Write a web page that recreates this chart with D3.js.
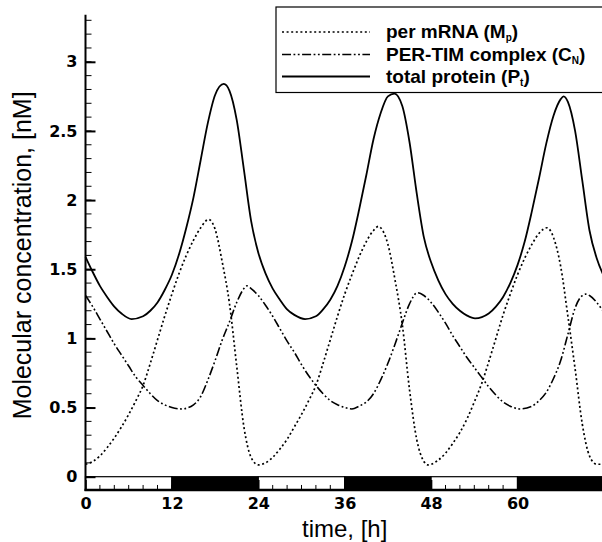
<!DOCTYPE html>
<html><head><meta charset="utf-8">
<script src="https://cdn.jsdelivr.net/npm/d3@7"></script>
<style>
html,body{margin:0;padding:0;background:#fff;}
svg{display:block;}
</style>
</head><body>
<svg id="chart" width="602" height="542"></svg>
<script>
// ---- data ----
const mpT = [0,1,2,3,4,5,6,7,8,9,10,11,12,13,14,15,16,17.1,18,19,20,21,22,23,24,25,26,27,28,29,30,31,32,33,34,35,36,37,38,39,40,40.7,41,42,43,44,45,46,47,47.5,48,49,50,51,52,53,54,55,56,57,58,59,60,61,62,63,64.1,65,66,67,68,69,70,71,72];
const mpV = [0.09,0.11,0.15,0.21,0.28,0.36,0.45,0.55,0.66,0.82,0.99,1.16,1.32,1.47,1.60,1.71,1.80,1.86,1.79,1.55,1.25,0.80,0.36,0.14,0.085,0.10,0.14,0.20,0.27,0.36,0.45,0.55,0.66,0.82,0.99,1.16,1.32,1.46,1.59,1.70,1.78,1.81,1.80,1.68,1.42,1.10,0.63,0.27,0.11,0.085,0.09,0.12,0.17,0.24,0.32,0.42,0.54,0.67,0.83,1.00,1.17,1.32,1.46,1.58,1.68,1.76,1.80,1.73,1.52,1.16,0.78,0.38,0.15,0.09,0.09];

const cnT = [0,1,2,3,4,5,6,7,8,9,10,11,12,13.4,15,16,17,18,19,20,21,22,22.4,23,24,25,26,27,28,29,30,31,32,33,34,35,36,37,38,39,40,41,42,43,44,45,46.1,47,48,49,50,51,52,53,54,55,56,57,58,59,60.3,62,63,64,65,66,67,68,69,69.5,70,71,72];
const cnV = [1.31,1.23,1.14,1.05,0.96,0.88,0.80,0.72,0.66,0.60,0.55,0.52,0.50,0.49,0.52,0.58,0.70,0.84,0.99,1.12,1.26,1.36,1.38,1.36,1.31,1.24,1.16,1.07,0.98,0.90,0.81,0.73,0.66,0.60,0.55,0.52,0.50,0.49,0.51,0.54,0.60,0.70,0.82,0.96,1.11,1.25,1.33,1.31,1.26,1.19,1.11,1.02,0.94,0.86,0.79,0.72,0.65,0.59,0.54,0.51,0.49,0.51,0.55,0.61,0.71,0.84,1.03,1.22,1.31,1.32,1.31,1.26,1.19];

const ptT = [0,1,2,3,4,5,6.4,8,9,10,11,12,13,14,15,16,17,18,19.2,20,21,22,23,24,25,26,27,28,29,30.5,32,33,34,35,36,37,38,39,40,41,42,42.9,44,45,46,47,48,49,50,51,52,53,54.1,56,57,58,59,60,61,62,63,64,65,66,66.4,67,68,69,70,71,72];
const ptV = [1.59,1.48,1.38,1.30,1.23,1.18,1.14,1.16,1.20,1.26,1.35,1.46,1.61,1.80,2.02,2.29,2.56,2.76,2.84,2.79,2.58,2.22,1.85,1.62,1.47,1.36,1.28,1.21,1.17,1.14,1.16,1.21,1.28,1.38,1.52,1.70,1.93,2.18,2.44,2.63,2.75,2.77,2.68,2.42,2.05,1.73,1.55,1.42,1.32,1.25,1.20,1.165,1.145,1.18,1.23,1.30,1.40,1.53,1.70,1.92,2.16,2.41,2.61,2.73,2.75,2.71,2.50,2.14,1.78,1.58,1.45];

const seriesNames = ["per mRNA (M", "PER-TIM complex (C", "total protein (P"];
const seriesSubs  = ["p", "N", "t"];
const xTicks = [0,12,24,36,48,60];
const yTicks = [0,0.5,1,1.5,2,2.5,3];
const yTickLabels = ["0","0.5","1","1.5","2","2.5","3"];
const phaseStart = [0,12,24,36,48,60];
const phaseType  = ["L","D","L","D","L","D"];
const xTitle = "time, [h]";
const yTitle = "Molecular concentration, [nM]";

// ---- drawing ----
const svg = d3.select("#chart");
const x = d3.scaleLinear().domain([0,72]).range([85.5, 603.9]);
const y = d3.scaleLinear().domain([0,3]).range([476.7, 61.8]);
const yBot = -0.096, yTop = 3.34;
const TICKFONT = "'DejaVu Sans', sans-serif";
const FONT = "'Liberation Sans', Arial, Helvetica, sans-serif";

// light/dark bar
svg.append("g").selectAll("rect").data(phaseStart).join("rect")
  .attr("x", d => x(d)).attr("y", y(0))
  .attr("width", d => x(d+12)-x(d)).attr("height", y(yBot)-y(0))
  .attr("fill", (d,i) => phaseType[i]==="D" ? "#000" : "#fff")
  .attr("stroke", "#000").attr("stroke-width", 1.2);

// x minor ticks (every 2 h)
const xMinor = d3.range(0, 72.01, 2);
svg.append("g").selectAll("line").data(xMinor).join("line")
  .attr("x1", d => x(d)).attr("x2", d => x(d))
  .attr("y1", y(yBot)).attr("y2", y(yBot)-5)
  .attr("stroke", "#000").attr("stroke-width", 1);

// x axis
const xAxis = d3.axisBottom(x).tickValues(xTicks).tickSize(-10).tickSizeOuter(0).tickPadding(8).tickFormat(d3.format("d"));
const gx = svg.append("g").attr("transform", `translate(0,${y(yBot)})`).call(xAxis);
gx.select(".domain").remove();
gx.selectAll("line").attr("stroke-width", 1.5);
gx.selectAll("text").attr("font-family", TICKFONT).attr("font-weight", "bold").attr("font-size", 16).attr("fill", "#000");
svg.append("line").attr("x1", x(0)-1).attr("x2", 602).attr("y1", y(yBot)).attr("y2", y(yBot))
  .attr("stroke", "#000").attr("stroke-width", 2.5);

// y axis minor ticks
const yMinor = d3.range(0, 33.5, 1).map(v => v/10);
svg.append("g").selectAll("line").data(yMinor).join("line")
  .attr("x1", x(0)).attr("x2", x(0)+6)
  .attr("y1", d => y(d)).attr("y2", d => y(d))
  .attr("stroke", "#000").attr("stroke-width", 1);
const yAxis = d3.axisLeft(y).tickValues(yTicks).tickSize(-10).tickSizeOuter(0).tickPadding(8)
  .tickFormat((d,i) => yTickLabels[i]);
const gy = svg.append("g").attr("transform", `translate(${x(0)},0)`).call(yAxis);
gy.select(".domain").remove();
gy.selectAll("line").attr("stroke-width", 2);
gy.selectAll("text").attr("font-family", TICKFONT).attr("font-weight", "bold").attr("font-size", 16).attr("fill", "#000");
svg.append("line").attr("x1", x(0)).attr("x2", x(0)).attr("y1", y(yTop)).attr("y2", y(yBot)+1)
  .attr("stroke", "#000").attr("stroke-width", 2);

// curves
const line = d3.line().x(d => x(d[0])).y(d => y(d[1])).curve(d3.curveMonotoneX);
const styles = [
  {dash: "2,2.6", w: 1.7},
  {dash: "9,2.5,1.8,2.5,1.8,2.5", w: 1.6},
  {dash: null, w: 1.8}
];
const series = [
  d3.zip(mpT, mpV),
  d3.zip(cnT, cnV),
  d3.zip(ptT, ptV)
];
series.forEach((s,i) => {
  svg.append("path").attr("d", line(s)).attr("fill", "none")
    .attr("stroke", "#000").attr("stroke-width", styles[i].w)
    .attr("stroke-dasharray", styles[i].dash);
});

// legend
const lg = svg.append("g");
lg.append("rect").attr("x", 276).attr("y", 7).attr("width", 400).attr("height", 85.5)
  .attr("fill", "#fff").attr("stroke", "#000").attr("stroke-width", 1.2);
const rowY = [32, 54.5, 76.5];
seriesNames.forEach((nm, i) => {
  lg.append("line").attr("x1", 282).attr("x2", 370).attr("y1", rowY[i]).attr("y2", rowY[i])
    .attr("stroke", "#000").attr("stroke-width", styles[i].w).attr("stroke-dasharray", styles[i].dash);
  const t = lg.append("text").attr("x", 386).attr("y", rowY[i]+6)
    .attr("font-family", FONT).attr("font-weight", "bold").attr("font-size", 19).attr("fill", "#000");
  t.append("tspan").text(nm);
  t.append("tspan").attr("font-size", 10).attr("dy", 3).text(seriesSubs[i]);
  t.append("tspan").attr("dy", -3).text(")");
});

// axis titles
svg.append("text").attr("x", (x(0)+x(72))/2).attr("y", 537).attr("text-anchor", "middle")
  .attr("font-family", FONT).attr("font-size", 24).attr("fill", "#000").text(xTitle);
svg.append("text").attr("transform", `translate(31,${(y(yTop)+y(yBot))/2+3}) rotate(-90)`).attr("text-anchor", "middle")
  .attr("font-family", FONT).attr("font-size", 25).attr("fill", "#000").text(yTitle);
</script>
</body></html>
